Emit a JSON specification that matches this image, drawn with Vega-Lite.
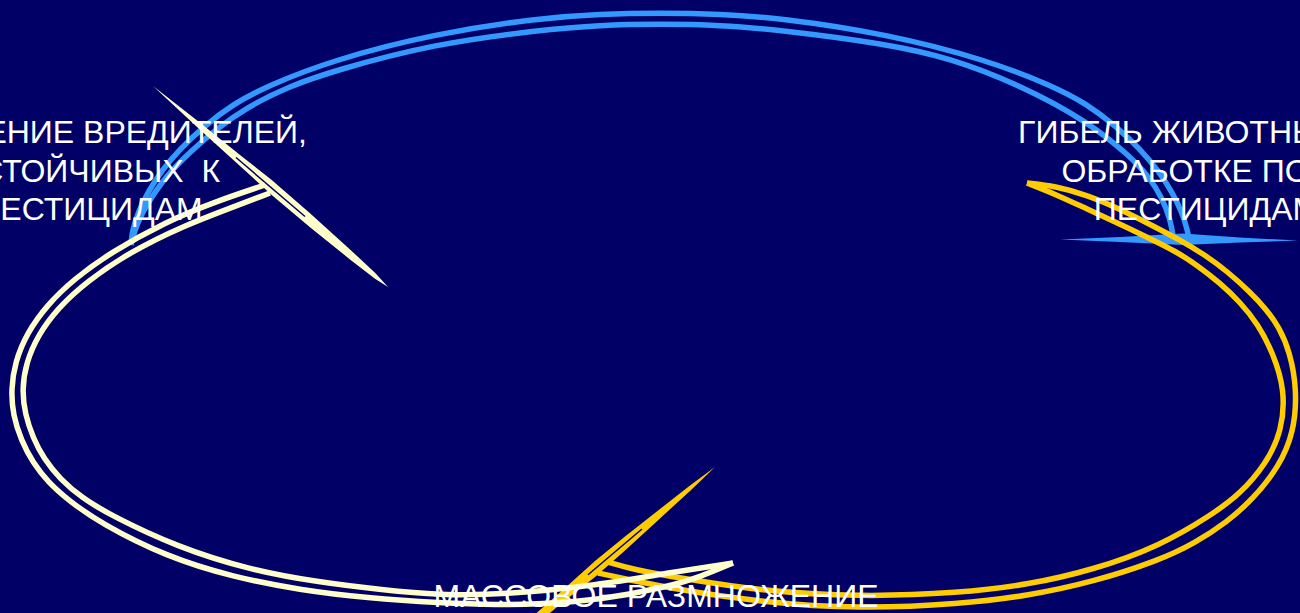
{
  "$schema": "https://vega.github.io/schema/vega-lite/v6.json",
  "width": 1300,
  "height": 613,
  "autosize": {"type": "fit", "contains": "padding"},
  "padding": 0,
  "background": "#000066",
  "config": {"view": {"stroke": null}},
  "datasets": {
    "arcs": [
      {"a":"blue","s":"o","i":0,"x":131,"y":245},{"a":"blue","s":"o","i":1,"x":132,"y":232},{"a":"blue","s":"o","i":2,"x":138,"y":212},{"a":"blue","s":"o","i":3,"x":148,"y":192},{"a":"blue","s":"o","i":4,"x":162,"y":170},{"a":"blue","s":"o","i":5,"x":180,"y":149},{"a":"blue","s":"o","i":6,"x":203,"y":127},{"a":"blue","s":"o","i":7,"x":233,"y":104},{"a":"blue","s":"o","i":8,"x":267,"y":86},{"a":"blue","s":"o","i":9,"x":333,"y":60},{"a":"blue","s":"o","i":10,"x":433,"y":34},{"a":"blue","s":"o","i":11,"x":540,"y":18},{"a":"blue","s":"o","i":12,"x":600,"y":14},{"a":"blue","s":"o","i":13,"x":660,"y":13},{"a":"blue","s":"o","i":14,"x":720,"y":14},{"a":"blue","s":"o","i":15,"x":780,"y":18},{"a":"blue","s":"o","i":16,"x":887,"y":34},{"a":"blue","s":"o","i":17,"x":987,"y":60},{"a":"blue","s":"o","i":18,"x":1053,"y":86},{"a":"blue","s":"o","i":19,"x":1087,"y":104},{"a":"blue","s":"o","i":20,"x":1117,"y":127},{"a":"blue","s":"o","i":21,"x":1140,"y":149},{"a":"blue","s":"o","i":22,"x":1158,"y":170},{"a":"blue","s":"o","i":23,"x":1172,"y":192},{"a":"blue","s":"o","i":24,"x":1182,"y":212},{"a":"blue","s":"o","i":25,"x":1188,"y":232},{"a":"blue","s":"o","i":26,"x":1189,"y":241},
      {"a":"blue","s":"n","i":0,"x":131,"y":245},{"a":"blue","s":"n","i":1,"x":134,"y":232},{"a":"blue","s":"n","i":2,"x":142,"y":213},{"a":"blue","s":"n","i":3,"x":154,"y":193},{"a":"blue","s":"n","i":4,"x":170,"y":172},{"a":"blue","s":"n","i":5,"x":190,"y":152},{"a":"blue","s":"n","i":6,"x":215,"y":130},{"a":"blue","s":"n","i":7,"x":247,"y":107},{"a":"blue","s":"n","i":8,"x":290,"y":86},{"a":"blue","s":"n","i":9,"x":333,"y":71},{"a":"blue","s":"n","i":10,"x":433,"y":44},{"a":"blue","s":"n","i":11,"x":540,"y":30},{"a":"blue","s":"n","i":12,"x":600,"y":25},{"a":"blue","s":"n","i":13,"x":660,"y":24},{"a":"blue","s":"n","i":14,"x":720,"y":25},{"a":"blue","s":"n","i":15,"x":780,"y":30},{"a":"blue","s":"n","i":16,"x":887,"y":44},{"a":"blue","s":"n","i":17,"x":950,"y":58},{"a":"blue","s":"n","i":18,"x":1020,"y":85},{"a":"blue","s":"n","i":19,"x":1087,"y":121},{"a":"blue","s":"n","i":20,"x":1130,"y":156},{"a":"blue","s":"n","i":21,"x":1150,"y":178},{"a":"blue","s":"n","i":22,"x":1162,"y":198},{"a":"blue","s":"n","i":23,"x":1170,"y":218},{"a":"blue","s":"n","i":24,"x":1174,"y":241},
      {"a":"yellow","s":"o","i":0,"x":1027,"y":183},{"a":"yellow","s":"o","i":1,"x":1055,"y":186},{"a":"yellow","s":"o","i":2,"x":1087,"y":195},{"a":"yellow","s":"o","i":3,"x":1120,"y":209},{"a":"yellow","s":"o","i":4,"x":1153,"y":226},{"a":"yellow","s":"o","i":5,"x":1180,"y":240},{"a":"yellow","s":"o","i":6,"x":1205,"y":255},{"a":"yellow","s":"o","i":7,"x":1228,"y":272},{"a":"yellow","s":"o","i":8,"x":1250,"y":292},{"a":"yellow","s":"o","i":9,"x":1266,"y":309},{"a":"yellow","s":"o","i":10,"x":1279,"y":327},{"a":"yellow","s":"o","i":11,"x":1290,"y":352},{"a":"yellow","s":"o","i":12,"x":1297,"y":390},{"a":"yellow","s":"o","i":13,"x":1294,"y":432},{"a":"yellow","s":"o","i":14,"x":1279,"y":467},{"a":"yellow","s":"o","i":15,"x":1252,"y":500},{"a":"yellow","s":"o","i":16,"x":1227,"y":522},{"a":"yellow","s":"o","i":17,"x":1195,"y":543},{"a":"yellow","s":"o","i":18,"x":1160,"y":560},{"a":"yellow","s":"o","i":19,"x":1093,"y":582},{"a":"yellow","s":"o","i":20,"x":1027,"y":596},{"a":"yellow","s":"o","i":21,"x":960,"y":604},{"a":"yellow","s":"o","i":22,"x":860,"y":609},{"a":"yellow","s":"o","i":23,"x":760,"y":602},{"a":"yellow","s":"o","i":24,"x":680,"y":590},{"a":"yellow","s":"o","i":25,"x":630,"y":580},{"a":"yellow","s":"o","i":26,"x":598,"y":573},
      {"a":"yellow","s":"n","i":0,"x":1027,"y":183},{"a":"yellow","s":"n","i":1,"x":1055,"y":194},{"a":"yellow","s":"n","i":2,"x":1087,"y":209},{"a":"yellow","s":"n","i":3,"x":1120,"y":224},{"a":"yellow","s":"n","i":4,"x":1153,"y":240},{"a":"yellow","s":"n","i":5,"x":1175,"y":251},{"a":"yellow","s":"n","i":6,"x":1197,"y":265},{"a":"yellow","s":"n","i":7,"x":1220,"y":283},{"a":"yellow","s":"n","i":8,"x":1240,"y":302},{"a":"yellow","s":"n","i":9,"x":1258,"y":324},{"a":"yellow","s":"n","i":10,"x":1273,"y":353},{"a":"yellow","s":"n","i":11,"x":1285,"y":390},{"a":"yellow","s":"n","i":12,"x":1282,"y":431},{"a":"yellow","s":"n","i":13,"x":1266,"y":464},{"a":"yellow","s":"n","i":14,"x":1240,"y":494},{"a":"yellow","s":"n","i":15,"x":1213,"y":514},{"a":"yellow","s":"n","i":16,"x":1160,"y":546},{"a":"yellow","s":"n","i":17,"x":1093,"y":570},{"a":"yellow","s":"n","i":18,"x":1027,"y":585},{"a":"yellow","s":"n","i":19,"x":960,"y":593},{"a":"yellow","s":"n","i":20,"x":860,"y":597},{"a":"yellow","s":"n","i":21,"x":760,"y":591},{"a":"yellow","s":"n","i":22,"x":680,"y":578},{"a":"yellow","s":"n","i":23,"x":635,"y":570},{"a":"yellow","s":"n","i":24,"x":608,"y":562},
      {"a":"cream","s":"o","i":0,"x":733,"y":563},{"a":"cream","s":"o","i":1,"x":700,"y":577},{"a":"cream","s":"o","i":2,"x":667,"y":587},{"a":"cream","s":"o","i":3,"x":600,"y":600},{"a":"cream","s":"o","i":4,"x":540,"y":604},{"a":"cream","s":"o","i":5,"x":500,"y":605},{"a":"cream","s":"o","i":6,"x":440,"y":603},{"a":"cream","s":"o","i":7,"x":367,"y":598},{"a":"cream","s":"o","i":8,"x":300,"y":590},{"a":"cream","s":"o","i":9,"x":233,"y":577},{"a":"cream","s":"o","i":10,"x":167,"y":557},{"a":"cream","s":"o","i":11,"x":100,"y":523},{"a":"cream","s":"o","i":12,"x":68,"y":500},{"a":"cream","s":"o","i":13,"x":48,"y":482},{"a":"cream","s":"o","i":14,"x":33,"y":463},{"a":"cream","s":"o","i":15,"x":21,"y":440},{"a":"cream","s":"o","i":16,"x":13,"y":415},{"a":"cream","s":"o","i":17,"x":11,"y":390},{"a":"cream","s":"o","i":18,"x":15,"y":362},{"a":"cream","s":"o","i":19,"x":27,"y":333},{"a":"cream","s":"o","i":20,"x":47,"y":305},{"a":"cream","s":"o","i":21,"x":74,"y":279},{"a":"cream","s":"o","i":22,"x":110,"y":253},{"a":"cream","s":"o","i":23,"x":165,"y":222},{"a":"cream","s":"o","i":24,"x":217,"y":201},{"a":"cream","s":"o","i":25,"x":265,"y":185},
      {"a":"cream","s":"n","i":0,"x":733,"y":563},{"a":"cream","s":"n","i":1,"x":667,"y":573},{"a":"cream","s":"n","i":2,"x":600,"y":585},{"a":"cream","s":"n","i":3,"x":500,"y":595},{"a":"cream","s":"n","i":4,"x":440,"y":595},{"a":"cream","s":"n","i":5,"x":383,"y":590},{"a":"cream","s":"n","i":6,"x":317,"y":582},{"a":"cream","s":"n","i":7,"x":250,"y":570},{"a":"cream","s":"n","i":8,"x":177,"y":547},{"a":"cream","s":"n","i":9,"x":112,"y":516},{"a":"cream","s":"n","i":10,"x":82,"y":498},{"a":"cream","s":"n","i":11,"x":60,"y":479},{"a":"cream","s":"n","i":12,"x":44,"y":459},{"a":"cream","s":"n","i":13,"x":33,"y":438},{"a":"cream","s":"n","i":14,"x":25,"y":414},{"a":"cream","s":"n","i":15,"x":22,"y":390},{"a":"cream","s":"n","i":16,"x":26,"y":363},{"a":"cream","s":"n","i":17,"x":38,"y":335},{"a":"cream","s":"n","i":18,"x":58,"y":308},{"a":"cream","s":"n","i":19,"x":86,"y":282},{"a":"cream","s":"n","i":20,"x":130,"y":252},{"a":"cream","s":"n","i":21,"x":183,"y":226},{"a":"cream","s":"n","i":22,"x":233,"y":207},{"a":"cream","s":"n","i":23,"x":270,"y":193}
    ],
    "spikes": [
      {"a":"blue","x":1060,"y":239.5,"y2":239.5},{"a":"blue","x":1120,"y":237,"y2":242},{"a":"blue","x":1183,"y":233.5,"y2":245},{"a":"blue","x":1240,"y":237.5,"y2":242.5},{"a":"blue","x":1298,"y":240.5,"y2":240.5},
      {"a":"cream","x":153,"y":86,"y2":86},{"a":"cream","x":200,"y":122.7,"y2":129.7},{"a":"cream","x":240,"y":154.9,"y2":165.9},{"a":"cream","x":272,"y":180.2,"y2":195.2},{"a":"cream","x":310,"y":213.2,"y2":227.2},{"a":"cream","x":350,"y":249.4,"y2":259.4},{"a":"cream","x":375,"y":272.8,"y2":278.8},{"a":"cream","x":388,"y":287,"y2":287},
      {"a":"yellow","x":525,"y":623,"y2":633.6},{"a":"yellow","x":560,"y":592.6,"y2":604.6},{"a":"yellow","x":595,"y":561,"y2":577},{"a":"yellow","x":625,"y":536.4,"y2":550.4},{"a":"yellow","x":660,"y":509,"y2":518.4},{"a":"yellow","x":690,"y":485.5,"y2":490.9},{"a":"yellow","x":715,"y":467,"y2":467}
    ],
    "gaps": [
      {"a":"cream","i":0,"x":236,"y":157.5},{"a":"cream","i":1,"x":305,"y":216.5},
      {"a":"yellow","i":0,"x":588,"y":574.8},{"a":"yellow","i":1,"x":642,"y":529}
    ],
    "labels": [
      {"t":"ПОЯВЛЕНИЕ ВРЕДИТЕЛЕЙ,\nУСТОЙЧИВЫХ \u00a0К\nПЕСТИЦИДАМ","x":90,"y":143},
      {"t":"ГИБЕЛЬ ЖИВОТНЫХ ПРИ\nОБРАБОТКЕ ПОЛЕЙ\nПЕСТИЦИДАМИ","x":1218,"y":143},
      {"t":"МАССОВОЕ РАЗМНОЖЕНИЕ","x":656,"y":607}
    ]
  },
  "encoding": {
    "x": {"field":"x","type":"quantitative","scale":{"domain":[0,1300],"nice":false,"zero":false},"axis":null},
    "y": {"field":"y","type":"quantitative","scale":{"domain":[0,613],"reverse":true,"nice":false,"zero":false},"axis":null}
  },
  "layer": [
    {"data":{"name":"arcs"},"transform":[{"filter":"datum.a == 'blue'"}],
     "mark":{"type":"line","color":"#3399FF","strokeWidth":5.5,"interpolate":"basis","clip":true},
     "encoding":{"detail":{"field":"s"},"order":{"field":"i","type":"quantitative"}}},
    {"data":{"name":"spikes"},"transform":[{"filter":"datum.a == 'blue'"}],
     "mark":{"type":"area","color":"#3399FF","opacity":1,"clip":true},
     "encoding":{"y2":{"field":"y2"}}},
    {"data":{"name":"spikes"},"transform":[{"filter":"datum.a == 'yellow'"}],
     "mark":{"type":"area","color":"#FFCC00","opacity":1,"clip":true},
     "encoding":{"y2":{"field":"y2"}}},
    {"data":{"name":"gaps"},"transform":[{"filter":"datum.a == 'yellow'"}],
     "mark":{"type":"line","color":"#000066","strokeWidth":1.5,"clip":true},
     "encoding":{"order":{"field":"i","type":"quantitative"}}},
    {"data":{"name":"arcs"},"transform":[{"filter":"datum.a == 'yellow'"}],
     "mark":{"type":"line","color":"#FFCC00","strokeWidth":5.5,"interpolate":"basis","clip":true},
     "encoding":{"detail":{"field":"s"},"order":{"field":"i","type":"quantitative"}}},
    {"data":{"name":"spikes"},"transform":[{"filter":"datum.a == 'cream'"}],
     "mark":{"type":"area","color":"#FFFFCC","opacity":1,"clip":true},
     "encoding":{"y2":{"field":"y2"}}},
    {"data":{"name":"gaps"},"transform":[{"filter":"datum.a == 'cream'"}],
     "mark":{"type":"line","color":"#000066","strokeWidth":1.5,"clip":true},
     "encoding":{"order":{"field":"i","type":"quantitative"}}},
    {"data":{"name":"arcs"},"transform":[{"filter":"datum.a == 'cream'"}],
     "mark":{"type":"line","color":"#FFFFCC","strokeWidth":5.5,"interpolate":"basis","clip":true},
     "encoding":{"detail":{"field":"s"},"order":{"field":"i","type":"quantitative"}}},
    {"data":{"name":"labels"},
     "mark":{"type":"text","color":"#FFFFFF","font":"Liberation Sans","fontSize":32,"align":"center","baseline":"alphabetic","lineBreak":"\n","lineHeight":38.5,"clip":true},
     "encoding":{"text":{"field":"t"}}}
  ]
}
